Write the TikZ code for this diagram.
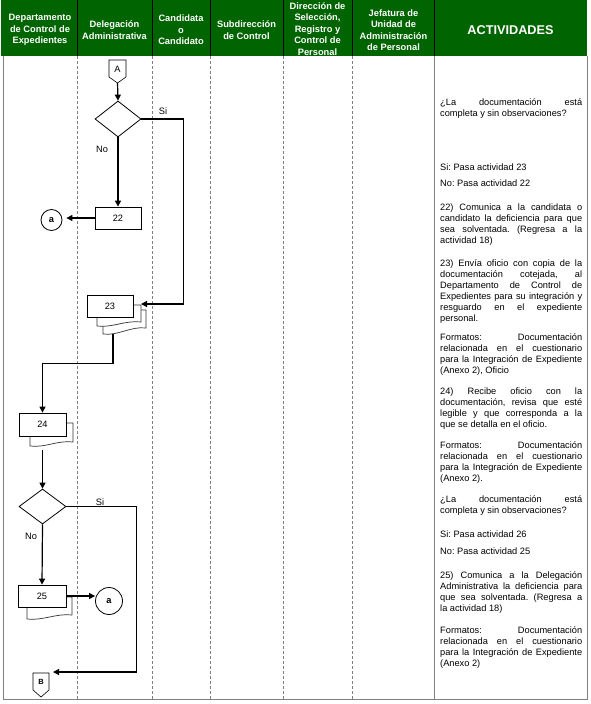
\documentclass[tikz,border=0pt]{standalone}
\usepackage{fontspec}
\setmainfont{Liberation Sans}
\usetikzlibrary{shapes.geometric,arrows.meta}
\definecolor{verdeenc}{RGB}{0,100,0}
\definecolor{gris}{RGB}{128,128,128}
\newcommand{\txt}{\fontsize{9.25}{11}\selectfont}
\hyphenpenalty=10000
\exhyphenpenalty=10000
\frenchspacing

\begin{document}
\begin{tikzpicture}[x=1pt,y=-1pt,
  flecha/.style={line width=1.2pt,-{Triangle[length=6pt,width=6pt]}},
  caja/.style={draw,fill=white,rectangle,line width=0.8pt,inner sep=0pt,font=\txt},
  capa/.style={draw=black!80,fill=white,line width=0.7pt},
  rombo/.style={draw,fill=white,diamond,inner sep=0pt,line width=0.8pt},
  conector/.style={draw,circle,inner sep=0pt,line width=0.8pt,font=\txt\bfseries},
  etiq/.style={font=\txt,inner sep=0pt},
  encab/.style={text=white,font=\fontsize{9.3}{11.5}\selectfont\bfseries,align=center,inner sep=0pt},
  actividad/.style={anchor=base west,text width=142pt,align=justify,font=\txt,inner sep=0pt},
  carril/.style={gris,dash pattern=on 3pt off 2pt,line width=0.6pt}]

\useasboundingbox (0,0) rectangle (590,704);

% ===== encabezado =====
\fill[verdeenc] (1,0) rectangle (587,56);
\foreach \xc in {77,152,210,283,352,434}
  \draw[line width=0.8pt] (\xc,0) -- (\xc,56);
\node[encab] (h1) at (40,30) {Departamento\\de Control de\\Expedientes};
\node[encab] (h2) at (114.5,30) {Delegación\\Administrativa};
\node[encab] (h3) at (181,30) {Candidata\\o\\Candidato};
\node[encab] (h4) at (246.5,30) {Subdirección\\de Control};
\node[encab] (h5) at (317.5,29) {Dirección de\\Selección,\\Registro y\\Control de\\Personal};
\node[encab] (h6) at (393.5,30) {Jefatura de\\Unidad de\\Administración\\de Personal};
\node[encab,font=\fontsize{12.7}{14}\selectfont\bfseries] (h7) at (510.5,30) {ACTIVIDADES};

% ===== carriles =====
\draw[gris,line width=0.8pt] (3,56) -- (3,699) -- (587,699) -- (587,56);
\draw[gris,line width=0.8pt] (434,56) -- (434,699);
\foreach \xc in {77,152,210,283,352}
  \draw[carril] (\xc,56) -- (\xc,699);

% ===== conector A y primera decision =====
\draw[line width=0.6pt,fill=white] (109,60) -- (126,60) -- (126,77) -- (117.5,83) -- (109,77) -- cycle;
\node[etiq] (A) at (117.5,69) {A};
\coordinate (Apunta) at (117.5,83);
\node[rombo,minimum width=46pt,minimum height=36pt] (d1) at (118,119) {};
\node[etiq] (si1) at (163,111) {Si};
\node[etiq] (no1) at (102,149) {No};

% ===== actividad 22 =====
\node[caja,minimum width=46pt,minimum height=22pt] (p22) at (118,218) {22};
\node[conector,minimum size=21pt] (a1) at (51.5,220) {a};

% ===== actividad 23 (varias hojas) =====
\draw[capa] (103,310) -- (103,334) .. controls (118,336) and (131,326) .. (146,328) -- (146,310) -- cycle;
\draw[capa] (97,305) -- (97,326) .. controls (112,328) and (126,320) .. (141,322) -- (141,305) -- cycle;
\node[caja,minimum width=46pt,minimum height=22pt] (p23) at (110,306) {23};
\coordinate (e23) at (141,304);
\coordinate (s23) at (113,333.5);

% ===== actividad 24 =====
\draw[capa] (30,423) -- (30,446) .. controls (45,448) and (58,440) .. (73,442) -- (73,423) -- cycle;
\node[caja,minimum width=47pt,minimum height=23pt] (p24) at (42.5,424.5) {24};
\coordinate (s24) at (42.5,450);

% ===== segunda decision =====
\node[rombo,minimum width=47pt,minimum height=35pt] (d2) at (42.5,506.5) {};
\node[etiq] (si2) at (100,502) {Si};
\node[etiq] (no2) at (31,536) {No};

% ===== actividad 25 =====
\draw[capa] (27,597) -- (27,619) .. controls (42,621) and (57,613) .. (72,615) -- (72,597) -- cycle;
\node[caja,minimum width=48pt,minimum height=22pt] (p25) at (42,596) {25};
\node[conector,minimum size=27pt] (a2) at (109,601) {a};

% ===== conector B =====
\draw[line width=0.6pt,fill=white] (33,673) -- (49,673) -- (49,690) -- (41,697) -- (33,690) -- cycle;
\node[etiq,font=\fontsize{7.5}{9}\selectfont\bfseries] (B) at (41,682) {B};
\coordinate (eB) at (53,672);

% ===== flechas =====
\draw[flecha] (Apunta) -- (d1.north);
\draw[flecha] (d1.south) -- (p22.north);
\draw[flecha,shorten >=4pt] (p22.west) -- (p22.west -| a1.east);
\draw[flecha] (d1.east) -- ++(42,0) |- (e23);
\draw[flecha] (s23) -- ++(0,30) -| (p24.north);
\draw[flecha] (s24) -- (d2.north);
\draw[flecha] (d2.east) -- ++(70,0) |- (eB);
\draw[flecha] (d2.south) -- (p25.north);
\draw[flecha] (p25.east) -- (p25.east -| a2.west);

% ===== actividades =====
\node[actividad] (t1) at (440,105.5) {¿La documentación está\linebreak completa y sin observaciones?};
\node[actividad] (t2) at (440,170) {Si: Pasa actividad 23};
\node[actividad] (t3) at (440,186) {No: Pasa actividad 22};
\node[actividad] (t4) at (440,210) {22) Comunica a la candidata o\linebreak candidato la deficiencia para que\linebreak sea solventada. (Regresa a la\linebreak actividad 18)};
\node[actividad] (t5) at (440,266) {23) Envía oficio con copia de la\linebreak documentación cotejada, al\linebreak Departamento de Control de\linebreak Expedientes para su integración y\linebreak resguardo en el expediente\linebreak personal.};
\node[actividad] (t6) at (440,340) {Formatos: Documentación\linebreak relacionada en el cuestionario\linebreak para la Integración de Expediente\linebreak (Anexo 2), Oficio};
\node[actividad] (t7) at (440,394) {24) Recibe oficio con la\linebreak documentación, revisa que esté\linebreak legible y que corresponda a la\linebreak que se detalla en el oficio.};
\node[actividad] (t8) at (440,448) {Formatos: Documentación\linebreak relacionada en el cuestionario\linebreak para la Integración de Expediente\linebreak (Anexo 2).};
\node[actividad] (t9) at (440,502.5) {¿La documentación está\linebreak completa y sin observaciones?};
\node[actividad] (t10) at (440,537) {Si: Pasa actividad 26};
\node[actividad] (t11) at (440,554) {No: Pasa actividad 25};
\node[actividad] (t12) at (440,578) {25) Comunica a la Delegación\linebreak Administrativa la deficiencia para\linebreak que sea solventada. (Regresa a\linebreak la actividad 18)};
\node[actividad] (t13) at (440,633) {Formatos: Documentación\linebreak relacionada en el cuestionario\linebreak para la Integración de Expediente\linebreak (Anexo 2)};

\end{tikzpicture}
\end{document}
